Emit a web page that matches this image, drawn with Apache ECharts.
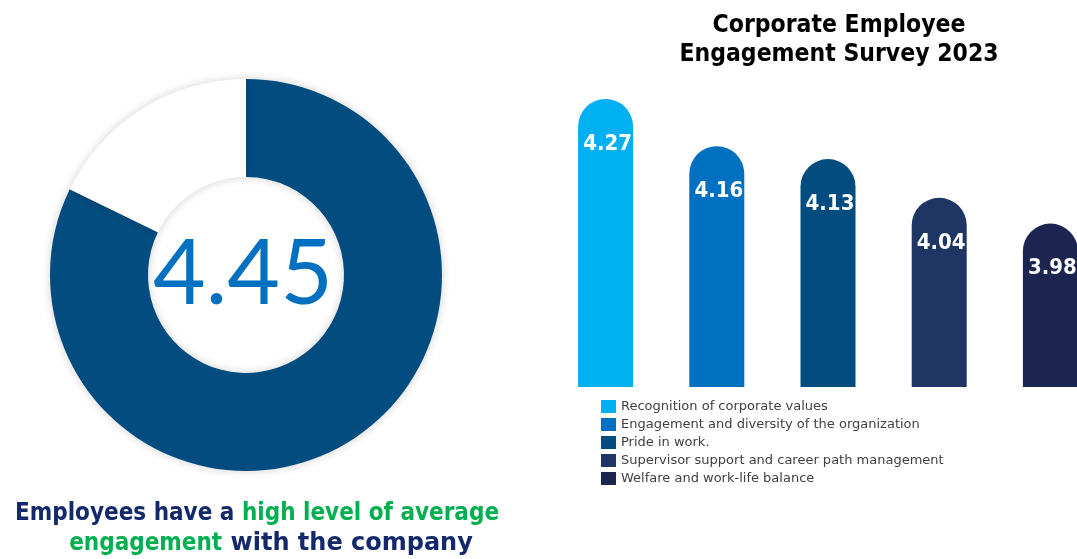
<!DOCTYPE html>
<html>
<head>
<meta charset="utf-8">
<script src="https://cdn.jsdelivr.net/npm/echarts@6/dist/echarts.min.js"></script>
<style>
  html, body { margin: 0; padding: 0; background: #ffffff; }
  #chart { width: 1077px; height: 559px; }
</style>
</head>
<body>
<div id="chart"></div>
<script>
// ---- data ----
const categories = [
  'Recognition of corporate values',
  'Engagement and diversity of the organization',
  'Pride in work.',
  'Supervisor support and career path management',
  'Welfare and work-life balance'
];
const scores = [4.27, 4.16, 4.13, 4.04, 3.98];
const overallScore = 4.45;
// share of the ring drawn filled vs. empty
const ringShares = [82.2, 17.8];
const titleLines = ['Corporate Employee', 'Engagement Survey 2023'];

// ---- styles ----
const barColors = ['#00b0f0', '#0070c0', '#024c7f', '#1f3564', '#1b2550'];
const fontCond = "'DejaVu Sans Condensed', 'DejaVu Sans', sans-serif";
const fontReg = "'DejaVu Sans', sans-serif";

const chart = echarts.init(document.getElementById('chart'));

const barSeries = categories.map((name, i) => ({
  type: 'bar',
  name: name,
  data: scores.map((v, j) => (j === i ? v : null)),
  barWidth: 55,
  barGap: '-100%',
  silent: true,
  itemStyle: { color: barColors[i], borderRadius: [27.5, 27.5, 0, 0] },
  label: {
    show: true,
    position: 'insideTop',
    distance: 34,
    offset: [2, 0],
    color: '#ffffff',
    fontWeight: 'bold',
    fontSize: 22,
    fontFamily: fontCond,
    formatter: (p) => p.value.toFixed(2)
  }
}));

chart.setOption({
  animation: false,
  backgroundColor: '#ffffff',
  grid: { left: 550, top: 86, width: 556, height: 301, outerBoundsMode: 'none', containLabel: false },
  xAxis: {
    type: 'category',
    data: categories,
    show: false
  },
  yAxis: {
    type: 'value',
    min: 3.6,
    max: 4.3,
    show: false
  },
  legend: {
    data: categories,
    orient: 'vertical',
    left: 596,
    top: 395,
    itemWidth: 15,
    itemHeight: 13,
    itemGap: 5,
    icon: 'rect',
    selectedMode: false,
    textStyle: { fontSize: 13, color: '#404040', fontFamily: fontReg }
  },
  graphic: [
    {
      type: 'text',
      x: 839,
      y: 11,
      style: {
        text: titleLines.join('\n'),
        textAlign: 'center',
        fill: '#000000',
        font: "bold 24.5px 'DejaVu Sans Condensed', 'DejaVu Sans', sans-serif",
        lineHeight: 29
      }
    },
    {
      type: 'text',
      x: 243,
      y: 275,
      z: 10,
      style: {
        text: overallScore.toFixed(2),
        textAlign: 'center',
        textVerticalAlign: 'middle',
        fill: '#0070c0',
        font: "normal 91px Lato, sans-serif"
      }
    },
    {
      type: 'text',
      x: 257,
      y: 498,
      style: {
        text: '{n|Employees have a }{g|high level of average}',
        textAlign: 'center',
        rich: {
          n: { fill: '#13296b', fontSize: 24, fontWeight: 'bold', fontFamily: fontCond, lineHeight: 31 },
          g: { fill: '#00b050', fontSize: 24, fontWeight: 'bold', fontFamily: fontCond, lineHeight: 31 }
        }
      }
    },
    {
      type: 'text',
      x: 271,
      y: 528,
      style: {
        text: '{g|engagement}{n| with the company}',
        textAlign: 'center',
        rich: {
          n: { fill: '#13296b', fontSize: 24, fontWeight: 'bold', fontFamily: fontReg, lineHeight: 31 },
          g: { fill: '#00b050', fontSize: 24, fontWeight: 'bold', fontFamily: fontCond, lineHeight: 31 }
        }
      }
    }
  ],
  series: [
    {
      type: 'pie',
      silent: true,
      center: [246, 275],
      radius: [98, 196],
      startAngle: 90,
      clockwise: true,
      label: { show: false },
      labelLine: { show: false },
      itemStyle: { shadowBlur: 10, shadowColor: 'rgba(0,0,0,0.18)' },
      data: [
        { value: ringShares[0], name: 'filled', itemStyle: { color: '#034c80' } },
        { value: ringShares[1], name: 'empty', itemStyle: { color: '#ffffff' } }
      ]
    },
    ...barSeries
  ]
});
</script>
</body>
</html>
